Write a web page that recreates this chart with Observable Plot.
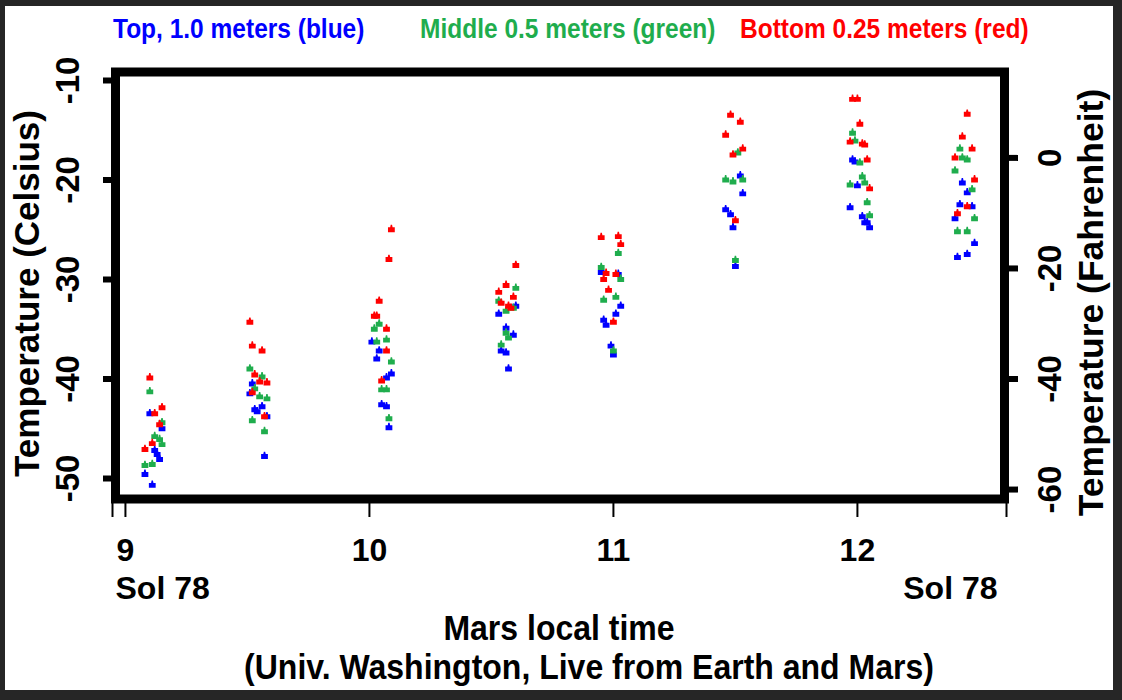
<!DOCTYPE html>
<html>
<head>
<meta charset="utf-8">
<script src="https://cdn.jsdelivr.net/npm/d3@7"></script>
<script src="https://cdn.jsdelivr.net/npm/@observablehq/plot@0.6"></script>
<style>
  body { margin: 0; background: #222; }
  #outer { position: relative; width: 1122px; height: 700px; background: #262626; overflow: hidden;
           font-family: "Liberation Sans", Arial, sans-serif; font-weight: bold; }
  #white { position: absolute; left: 5px; top: 6px; right: 9px; bottom: 10px; background: #fff; }
  .t { position: absolute; white-space: nowrap; line-height: 1; transform-origin: 0 84.6%; transform: scaleY(1.1); }
  .c { transform: translateX(-50%) scaleY(1.1); }
  #chart { position: absolute; left: 0; top: 60px; }
</style>
</head>
<body>
<div id="outer">
  <div id="white"></div>
  <div id="legend"></div>
  <div id="chart"></div>
  <div class="t c" style="left:559px; top:612.9px; font-size:32px; color:#000">Mars local time</div>
  <div class="t c" style="left:589px; top:651.9px; font-size:32px; color:#000">(Univ. Washington, Live from Earth and Mars)</div>
</div>
<script>
// ---- data (Mars local time in hours, temperature in °C) ----
const topTime = [9.10,9.15,9.12,9.13,9.14,9.08,9.11, 9.52,9.51,9.53,9.54,9.56,9.58,9.57,
  10.01,10.04,10.03,10.09,10.07,10.05,10.07,10.08, 10.60,10.53,10.56,10.59,10.54,10.56,10.57,
  10.95,11.02,11.03,11.01,10.96,10.97,10.99,11.00, 11.52,11.53,11.46,11.48,11.49,11.50,
  11.98,11.99,12.00,11.97,12.02,12.03,12.04,12.05, 12.43,12.45,12.42,12.47,12.40,12.48,12.41,12.45];
const topTemp = [-43.4,-44.9,-47.1,-47.5,-48.0,-49.5,-50.6, -40.4,-41.4,-43.0,-43.2,-42.7,-43.7,-47.7,
  -36.2,-37.1,-37.9,-39.4,-39.8,-42.5,-42.7,-44.8, -32.6,-33.4,-34.8,-35.5,-37.1,-37.3,-38.9,
  -29.2,-29.4,-32.6,-33.4,-34.0,-34.5,-36.6,-37.5, -19.5,-21.3,-22.9,-23.4,-24.7,-28.6,
  -17.9,-18.1,-20.5,-22.7,-23.6,-24.2,-24.2,-24.7, -20.2,-21.2,-22.4,-22.6,-23.8,-26.3,-27.7,-27.4];

const middleTime = [9.10,9.15,9.12,9.14,9.15,9.08,9.11, 9.51,9.56,9.53,9.55,9.58,9.52,9.57,
  10.04,10.02,10.03,10.07,10.09,10.05,10.07,10.08, 10.60,10.53,10.59,10.56,10.56,10.57,10.54,
  11.02,10.95,11.03,11.01,10.96,11.00, 11.51,11.46,11.49,11.53,11.50,
  11.98,11.99,12.01,12.02,11.97,12.03,12.04,12.05, 12.42,12.43,12.45,12.40,12.47,12.48,12.41,12.45];
const middleTemp = [-41.2,-44.3,-45.7,-46.0,-46.5,-48.6,-48.5, -38.9,-39.7,-40.9,-41.7,-41.9,-44.1,-45.2,
  -34.4,-34.9,-36.2,-36.0,-38.2,-41.0,-41.0,-43.9, -30.8,-32.1,-32.8,-33.1,-35.3,-35.8,-36.5,
  -27.3,-28.7,-29.9,-31.7,-32.0,-37.1, -17.2,-19.9,-20.1,-19.9,-28.0,
  -15.2,-16.0,-18.2,-19.6,-20.4,-20.2,-22.2,-23.5, -16.8,-17.7,-17.9,-19.0,-20.9,-23.8,-25.1,-25.1];

const bottomTime = [9.10,9.12,9.15,9.14,9.11,9.08, 9.51,9.52,9.56,9.53,9.55,9.58,9.52,9.57,
  10.09,10.08,10.04,10.02,10.03,10.07,10.07,10.05, 10.60,10.56,10.53,10.59,10.54,10.57,10.58,
  10.95,11.02,11.03,10.97,11.01,10.96,10.98,11.00, 11.48,11.52,11.46,11.53,11.49,11.50,
  11.98,12.00,12.01,11.97,12.02,12.03,12.04,12.05, 12.45,12.43,12.47,12.40,12.48,12.45,12.41];
const bottomTemp = [-39.8,-43.4,-42.8,-44.5,-46.4,-47.0, -34.2,-36.6,-37.1,-39.5,-40.2,-40.3,-41.3,-43.7,
  -24.9,-27.9,-32.1,-33.6,-33.6,-34.9,-37.1,-40.1, -28.5,-30.5,-31.2,-31.7,-32.3,-32.6,-32.8,
  -25.7,-25.6,-26.4,-29.3,-29.4,-29.9,-31.0,-34.2, -13.4,-14.1,-15.4,-16.8,-17.4,-24.0,
  -11.8,-11.8,-14.3,-16.1,-16.3,-16.4,-17.9,-20.8, -13.3,-15.6,-16.8,-17.7,-19.9,-22.6,-23.3];

const seriesNames = ["Top, 1.0 meters (blue)", "Middle 0.5 meters (green)", "Bottom 0.25 meters (red)"];
const seriesColors = ["#0000ff", "#1fad4d", "#ff0000"];

const xDomain = [8.947, 12.611];
const yDomain = [-52.06, -9.146];
const xTickMarks = [8.947, 9, 10, 11, 12, 12.611];
const xTickLabels = [9, 10, 11, 12];
const solLabel = "Sol 78";
const celsiusTicks = [-10, -20, -30, -40, -50];
const fahrenheitTicks = [0, -20, -40, -60];
const toC = f => (f - 32) * 5 / 9;

// ---- legend ----
const legendLeft = [113, 420, 740];
const legend = document.getElementById("legend");
seriesNames.forEach((name, i) => {
  const d = document.createElement("div");
  d.className = "t";
  d.textContent = name;
  d.style.left = legendLeft[i] + "px";
  d.style.top = "18.3px";
  d.style.fontSize = "24.5px";
  d.style.color = seriesColors[i];
  legend.appendChild(d);
});

// ---- marker symbol ----
const house = {
  draw(ctx, size) {
    const h = Math.sqrt(size / Math.PI) * 0.85;
    ctx.moveTo(-h, h);
    ctx.lineTo(h, h);
    ctx.lineTo(h, -h * 0.45);
    ctx.lineTo(h * 0.35, -h * 0.45);
    ctx.lineTo(h * 0.2, -h * 1.15);
    ctx.lineTo(-h * 0.2, -h * 1.15);
    ctx.lineTo(-h * 0.35, -h * 0.45);
    ctx.lineTo(-h, -h * 0.45);
    ctx.closePath();
  }
};

const rows = (times, temps) => times.map((t, i) => ({time: t, temp: temps[i]}));
const seriesRows = [rows(topTime, topTemp), rows(middleTime, middleTemp), rows(bottomTime, bottomTemp)];

const font = "Liberation Sans, Arial, sans-serif";
const txt = {fontWeight: "bold", fill: "black"};

const chart = Plot.plot({
  width: 1122,
  height: 550,
  marginLeft: 112,
  marginRight: 116,
  marginTop: 11.5,
  marginBottom: 111.5,
  x: {domain: xDomain, axis: null},
  y: {domain: yDomain, axis: null},
  style: {fontFamily: font, background: "transparent", overflow: "visible"},
  marks: [
    Plot.axisX({ticks: xTickMarks, tickSize: 18.5, strokeWidth: 2, tickFormat: () => "", label: null}),
    Plot.axisY({anchor: "left", ticks: celsiusTicks, tickSize: 9, strokeWidth: 6, tickFormat: () => "", label: null}),
    Plot.axisY({anchor: "right", ticks: fahrenheitTicks.map(toC), tickSize: 11, strokeWidth: 6, tickFormat: () => "", label: null}),
    ...seriesRows.map((data, i) =>
      Plot.dot(data, {x: "time", y: "temp", r: 4, symbol: house, fill: seriesColors[i], stroke: "none"})),
    Plot.frame({stroke: "black", strokeWidth: 9, insetLeft: 3, insetRight: 2}),
    Plot.text(xTickLabels, {x: d => d, text: d => String(d), frameAnchor: "bottom", dy: 61.5,
      lineAnchor: "bottom", fontSize: 32, ...txt}),
    Plot.text([solLabel], {text: d => d, frameAnchor: "bottom-left", textAnchor: "start", dx: 3, dy: 99.5,
      lineAnchor: "bottom", fontSize: 32, ...txt}),
    Plot.text([solLabel], {text: d => d, frameAnchor: "bottom-right", textAnchor: "end", dx: -9, dy: 99.5,
      lineAnchor: "bottom", fontSize: 32, ...txt}),
    Plot.text(celsiusTicks, {y: d => d, text: d => String(d), frameAnchor: "left", dx: -44, rotate: -90,
      textAnchor: "middle", lineAnchor: "middle", fontSize: 33, ...txt}),
    Plot.text(fahrenheitTicks, {y: d => toC(d), text: d => String(d), frameAnchor: "right", dx: 44, rotate: -90,
      textAnchor: "middle", lineAnchor: "middle", fontSize: 33, ...txt}),
    Plot.text(["Temperature (Celsius)"], {text: d => d, frameAnchor: "left", dx: -85, dy: 8, rotate: -90,
      textAnchor: "middle", lineAnchor: "middle", fontSize: 35, ...txt}),
    Plot.text(["Temperature (Fahrenheit)"], {text: d => d, frameAnchor: "right", dx: 85, dy: 17, rotate: -90,
      textAnchor: "middle", lineAnchor: "middle", fontSize: 35.5, ...txt})
  ]
});
document.getElementById("chart").appendChild(chart);
</script>
</body>
</html>
